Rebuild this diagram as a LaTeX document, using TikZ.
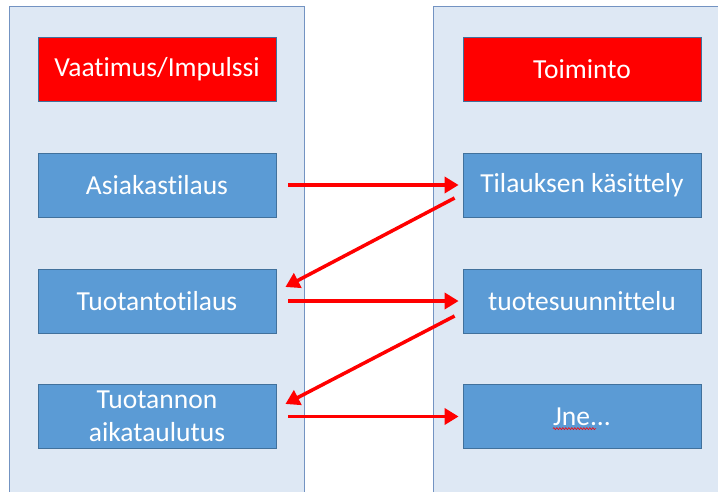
\documentclass[tikz,border=0pt]{standalone}
\usepackage{fontspec}
\setmainfont{Carlito}[Ligatures={NoCommon}]
\usetikzlibrary{arrows.meta,decorations.pathmorphing}
\definecolor{panelfill}{HTML}{DEE8F4}
\definecolor{paneldraw}{HTML}{7393C2}
\definecolor{boxfill}{HTML}{5B9BD5}
\definecolor{boxdraw}{HTML}{41719C}
\definecolor{hdrred}{HTML}{FF0000}
\tikzset{
  panel/.style={fill=panelfill,draw=paneldraw,line width=1pt},
  box/.style={fill=boxfill,draw=boxdraw,line width=0.8pt,minimum width=238pt,minimum height=64pt,
    text=white,font=\fontsize{27.5}{33}\selectfont,align=center,inner sep=0pt},
  hdr/.style={box,fill=hdrred,draw=boxdraw},
  flow/.style={draw=hdrred,line width=3.5pt,-{Triangle[length=14pt,width=16pt]}},
}
\begin{document}
\begin{tikzpicture}[x=1pt,y=-1pt]
\useasboundingbox (0,0) rectangle (718,492);
\fill[white] (0,0) rectangle (718,492);
\begin{scope}
\clip (0,0) rectangle (718,492);
\draw[panel] (9,7) rectangle (304,500);
\draw[panel] (433,7) rectangle (725,500);
\end{scope}
\node[hdr] (h1) at (157,69.5) {Vaatimus/Impulssi};
\node[hdr] (h2) at (582,69.5) {Toiminto};
\node[box] (l1) at (157,185) {Asiakastilaus};
\node[box] (l2) at (157,301) {Tuotantotilaus};
\node[box] (l3) at (157,416.5) {Tuotannon\\aikataulutus};
\node[box] (r1) at (582,185) {Tilauksen käsittely};
\node[box] (r2) at (582,301) {tuotesuunnittelu};
\node[box] (r3) at (582,416.5) {\phantom{Jne...}};
\node[text=white,font=\fontsize{27.5}{33}\selectfont,inner sep=0pt] (jne) at (r3) {Jne...};
\draw[hdrred,line width=0.6pt,decorate,decoration={snake,amplitude=1pt,segment length=3pt}]
  ([yshift=-3pt]jne.south west) -- ([xshift=-15pt,yshift=-3pt]jne.south east);
\draw[flow] ([xshift=12pt]l1.east) -- ([xshift=-4pt]r1.west);
\draw[flow] ([xshift=-8pt,yshift=-13pt]r1.west) -- ([xshift=9pt,yshift=14pt]l2.east);
\draw[flow] ([xshift=12pt]l2.east) -- ([xshift=-4pt]r2.west);
\draw[flow] ([xshift=-8pt,yshift=-15pt]r2.west) -- ([xshift=9pt,yshift=12.5pt]l3.east);
\draw[flow] ([xshift=12pt]l3.east) -- ([xshift=-4pt]r3.west);
\end{tikzpicture}
\end{document}
